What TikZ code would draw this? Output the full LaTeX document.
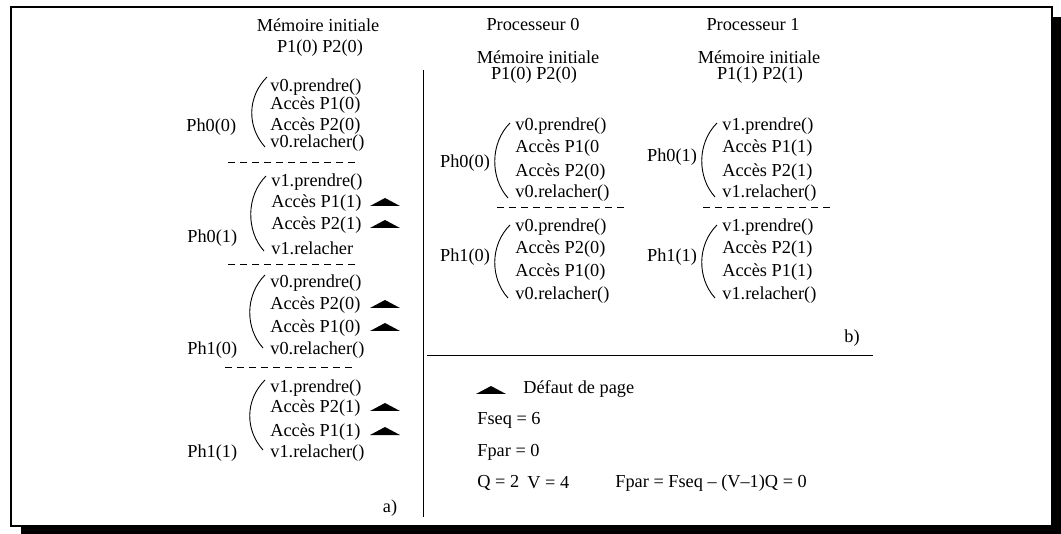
\documentclass[tikz,border=0pt]{standalone}
\usepackage{fontspec}
\setmainfont{Liberation Serif}

\tikzset{
	texte/.style={font=\fontsize{9.15}{11}\selectfont, inner sep=0pt},
	ligne/.style={texte, anchor=west},
	tiret/.style={dash pattern=on 3.5pt off 2.5pt, line width=0.5pt},
	paren/.style={line width=0.45pt}
}
% triangle "defaut de page" : centre x, y
\newcommand{\defaut}[2]{\fill (#1-15,#2+3) -- (#1,#2-5) -- (#1+15,#2+3) -- cycle;}
% parenthese : x haut, y haut, y bas
\newcommand{\parenth}[3]{\draw[paren] (#1,#2) .. controls (#1-20,#2+20) and (#1-20,#3-20) .. (#1-2,#3);}

\begin{document}
\begin{tikzpicture}[x=0.5pt, y=-0.5pt]
	\useasboundingbox (0,0) rectangle (1061,534);
	% cadre avec ombre
	\fill (21,526) rectangle (1061,534);
	\fill (1052,17) rectangle (1061,534);
	\draw[line width=1pt] (11,7) rectangle (1052,526);

	\draw[line width=0.5pt] (423,70) -- (423,517);
	\draw[line width=0.5pt] (427,356) -- (873,356);

	% a) execution sequentielle
	\node[texte] (memA) at (318,25) {Mémoire initiale};
	\node[texte] (pagesA) at (320,48) {P1(0) P2(0)};

	\foreach \y/\t [count=\i] in {87/v0.prendre(), 105/Accès P1(0), 126/Accès P2(0), 143/v0.relacher()}
		\node[ligne] (a1-\i) at (270,\y) {\t};
	\foreach \y/\t [count=\i] in {182/v1.prendre(), 203/Accès P1(1), 225/Accès P2(1), 248/v1.relacher}
		\node[ligne] (a2-\i) at (271,\y) {\t};
	\foreach \y/\t [count=\i] in {283/v0.prendre(), 305/Accès P2(0), 328/Accès P1(0), 350/v0.relacher()}
		\node[ligne] (a3-\i) at (270,\y) {\t};
	\foreach \y/\t [count=\i] in {388/v1.prendre(), 408/Accès P2(1), 432/Accès P1(1), 453/v1.relacher()}
		\node[ligne] (a4-\i) at (270,\y) {\t};

	\node[ligne] (phA1) at (186,127) {Ph0(0)};
	\node[ligne] (phA2) at (187,238) {Ph0(1)};
	\node[ligne] (phA3) at (187,350) {Ph1(0)};
	\node[ligne] (phA4) at (187,453) {Ph1(1)};

	\parenth{267}{77}{147}
	\parenth{266}{176}{251}
	\parenth{265}{275}{348}
	\parenth{265}{380}{450}

	\draw[tiret] (228,163) -- (358,163);
	\draw[tiret] (228,265) -- (358,265);
	\draw[tiret] (225,368) -- (353,368);

	\foreach \y in {203,225,305,328,408,432}
		{\defaut{385}{\y}}

	\node[texte] (labA) at (390,508) {a)};

	% b) execution parallele
	\node[texte] (proc0) at (533,25) {Processeur 0};
	\node[texte] (proc1) at (753,25) {Processeur 1};
	\node[texte] (mem0) at (538,57) {Mémoire initiale};
	\node[texte] (pages0) at (534,75) {P1(0) P2(0)};
	\node[texte] (mem1) at (759,57) {Mémoire initiale};
	\node[texte] (pages1) at (760,75) {P1(1) P2(1)};

	\foreach \y/\t [count=\i] in {126/v0.prendre(), 148/Accès P1(0, 172/Accès P2(0), 193/v0.relacher(), 227/v0.prendre(), 249/Accès P2(0), 272/Accès P1(0), 295/v0.relacher()}
		\node[ligne] (b0-\i) at (515,\y) {\t};
	\foreach \y/\t [count=\i] in {126/v1.prendre(), 148/Accès P1(1), 172/Accès P2(1), 193/v1.relacher(), 227/v1.prendre(), 249/Accès P2(1), 272/Accès P1(1), 295/v1.relacher()}
		\node[ligne] (b1-\i) at (722,\y) {\t};

	\node[texte] (phB1) at (465,163) {Ph0(0)};
	\node[texte] (phB2) at (465,257) {Ph1(0)};
	\node[texte] (phB3) at (672,157) {Ph0(1)};
	\node[texte] (phB4) at (672,257) {Ph1(1)};

	\parenth{510}{123}{198}
	\parenth{510}{225}{298}
	\parenth{717}{123}{197}
	\parenth{717}{225}{298}

	\draw[tiret] (497,208) -- (625,208);
	\draw[tiret] (703,208) -- (832,208);

	\node[texte] (labB) at (852,338) {b)};

	% legende
	\defaut{491}{391}
	\node[ligne] (defaut) at (523,389) {Défaut de page};
	\node[ligne] (fseq) at (477,420) {Fseq = 6};
	\node[ligne] (fpar) at (477,452) {Fpar = 0};
	\node[ligne] (q) at (477,483) {Q = 2};
	\node[ligne] (v) at (527,483) {V = 4};
	\node[ligne] (formule) at (615,483) {Fpar = Fseq – (V–1)Q = 0};
\end{tikzpicture}
\end{document}
